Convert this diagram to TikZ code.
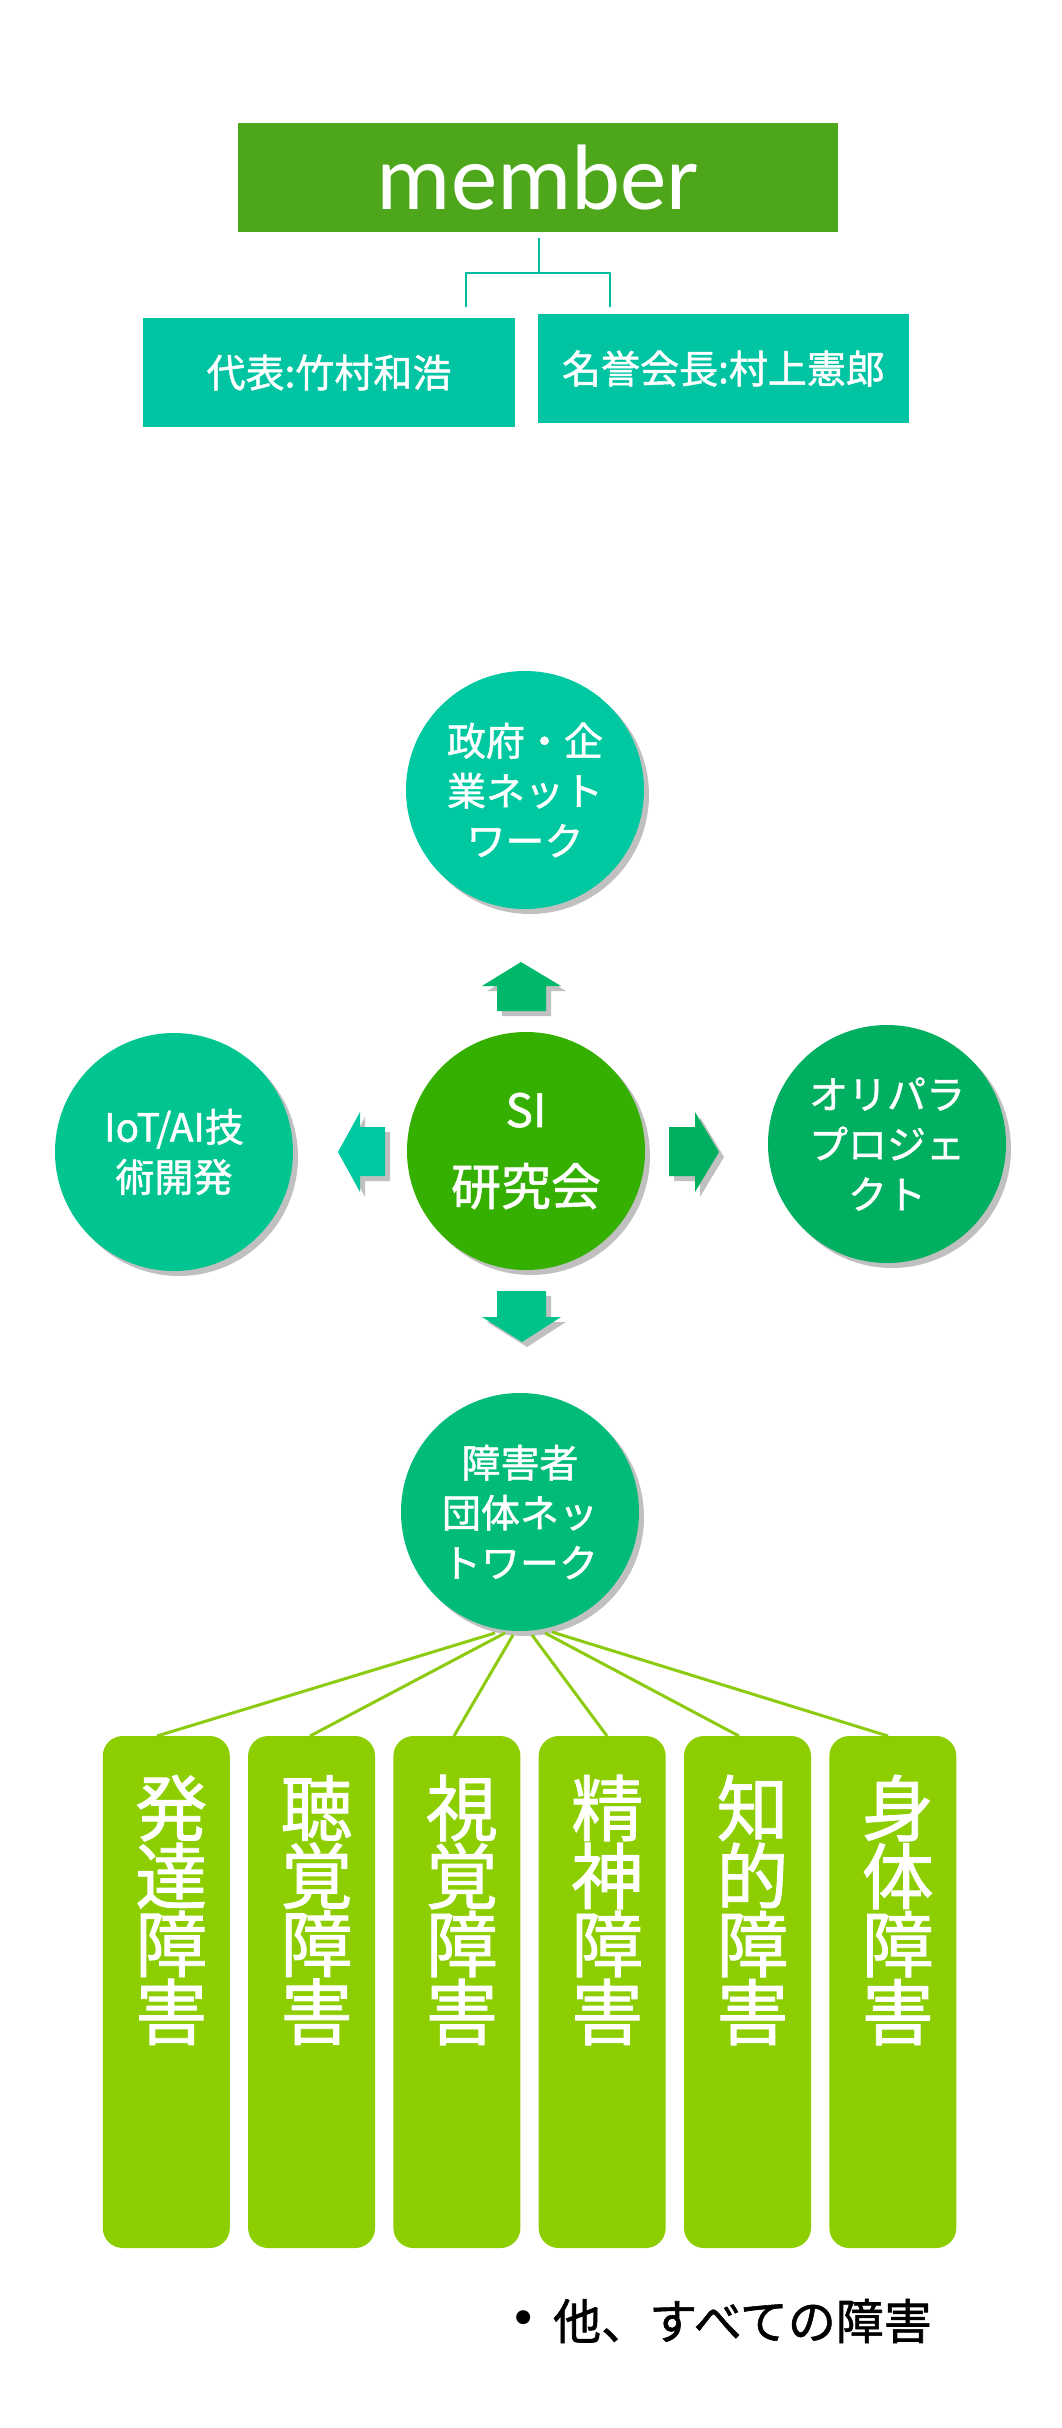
\documentclass[tikz,border=0pt]{standalone}
\usepackage{fontspec}
\newfontfamily\jp{Noto Sans CJK JP}[FakeBold=1.2]
\newfontfamily\lat{Carlito}
\newfontfamily\dv{DejaVu Sans}
\usetikzlibrary{shadows,calc}
\definecolor{memgreen}{HTML}{4EA71B}
\definecolor{tealbox}{HTML}{00C4A2}
\definecolor{tealline}{HTML}{00BBA0}
\definecolor{ctop}{HTML}{00C9A1}
\definecolor{ccenter}{HTML}{36B000}
\definecolor{cleft}{HTML}{00C590}
\definecolor{cright}{HTML}{00AF5F}
\definecolor{cbottom}{HTML}{00BC78}
\definecolor{aup}{HTML}{00B86A}
\definecolor{aleft}{HTML}{00C8A0}
\definecolor{aright}{HTML}{00B060}
\definecolor{adown}{HTML}{00C38C}
\definecolor{barg}{HTML}{8CCE00}
\definecolor{barline}{HTML}{8CCB10}
\begin{document}
\begin{tikzpicture}[x=1pt,y=-1pt,
  shad/.style={drop shadow={shadow xshift=5pt,shadow yshift=-5pt,fill=black!70,opacity=0.35}},
  membox/.style={rectangle,inner sep=0pt,fill=memgreen,text=white,minimum width=600pt,minimum height=109pt,font=\lat\fontsize{93}{100}\selectfont},
  namebox/.style={rectangle,inner sep=0pt,fill=tealbox,text=white,minimum width=372pt,minimum height=109pt,font=\jp\fontsize{39}{45}\selectfont},
  circ/.style={circle,inner sep=0pt,minimum size=238pt,text=white,align=center,font=\jp\fontsize{39}{50}\selectfont,shad},
  blockarrow/.style={shad},
  conn/.style={draw=tealline,line width=2.6pt},
  spoke/.style={draw=barline,line width=3pt},
  barbox/.style={rectangle,rounded corners=20pt,fill=barg,minimum width=127pt,minimum height=512pt,inner sep=0pt},
  bartext/.style={text=white,align=center,inner sep=0pt,font=\jp\fontsize{72}{68}\selectfont}
]
\useasboundingbox (0,0) rectangle (1062,2428);
\fill[white] (0,0) rectangle (1062,2428);

% member tree
\node[membox] (member) at (538,177.5) {member};
\node[namebox] (rep) at (329,372.5) {代表:竹村和浩};
\node[namebox,minimum width=371pt] (hon) at (723.5,368.5) {名誉会長:村上憲郎};
\coordinate (mtop) at (539,238);
\coordinate (mmid) at (539,273);
\coordinate (lt) at (466,307);
\coordinate (rt) at (610,307);
\draw[conn] (mtop) -- (mmid);
\draw[conn] (lt) |- (mmid) -| (rt);

% circles
\node[circ,fill=ctop] (gov) at (525,790) {政府・企\\業ネット\\ワーク};
\node[circ,fill=ccenter] (si) at (526,1151) {{\fontsize{46}{50}\selectfont SI}\\[28pt]{\fontsize{50}{50}\selectfont 研究会}};
\node[circ,fill=cleft] (iot) at (174,1152) {IoT/AI技\\術開発};
\node[circ,fill=cright] (oli) at (887,1144) {オリパラ\\プロジェ\\クト};
\node[circ,fill=cbottom] (dis) at (520,1512) {障害者\\団体ネッ\\トワーク};

% block arrows
\fill[aup,blockarrow] (521,962) -- (561,986) -- (546,986) -- (546,1011) -- (497,1011) -- (497,986) -- (482,986) -- cycle;
\fill[aleft,blockarrow] (338,1152) -- (360,1112) -- (360,1127) -- (385,1127) -- (385,1176) -- (360,1176) -- (360,1192) -- cycle;
\fill[aright,blockarrow] (669,1127) -- (695,1127) -- (695,1112) -- (719,1152) -- (695,1192) -- (695,1176) -- (669,1176) -- cycle;
\fill[adown,blockarrow] (497,1291) -- (546,1291) -- (546,1317) -- (561,1317) -- (522,1342) -- (482,1317) -- (497,1317) -- cycle;

% bars
\foreach \i/\t in {1/発\\達\\障\\害, 2/聴\\覚\\障\\害, 3/視\\覚\\障\\害, 4/精\\神\\障\\害, 5/知\\的\\障\\害, 6/身\\体\\障\\害}{
  \node[barbox] (bar\i) at ({166.3+145.3*(\i-1)},1992) {};
  \node[bartext] (bt\i) at ({171.3+145.3*(\i-1)},1910) {\t};
}

% spokes
\coordinate (s1) at (495,1633); \coordinate (e1) at (157,1736);
\coordinate (s2) at (505,1633); \coordinate (e2) at (310,1736);
\coordinate (s3) at (513,1635); \coordinate (e3) at (454,1736);
\coordinate (s4) at (532,1635); \coordinate (e4) at (607,1736);
\coordinate (s5) at (545,1633); \coordinate (e5) at (739,1736);
\coordinate (s6) at (552,1632); \coordinate (e6) at (888,1736);
\foreach \k in {1,...,6}{\draw[spoke] (s\k) -- (e\k);}

% footnote
\node[inner sep=0pt,font=\dv\fontsize{48}{50}\selectfont] (bul) at (523.5,2323) {•};
\node[inner sep=0pt,font=\jp\fontsize{48}{50}\selectfont] (other) at (742.5,2321) {他、すべての障害};
\end{tikzpicture}
\end{document}
